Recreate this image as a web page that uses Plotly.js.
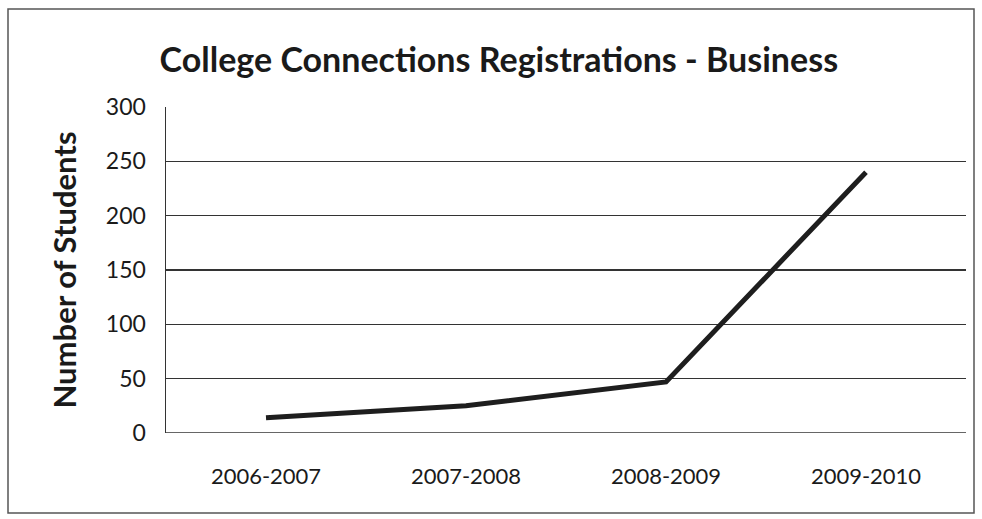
<!DOCTYPE html>
<html>
<head>
<meta charset="utf-8">
<script src="https://cdn.plot.ly/plotly-3.0.1.min.js"></script>
<style>
html,body{margin:0;padding:0;background:#fff;}
#chart{width:982px;height:519px;}
</style>
</head>
<body>
<div id="chart"></div>
<script>
var categories = ['2006-2007', '2007-2008', '2008-2009', '2009-2010'];
var students = [14, 25, 47, 240];
var yTicks = [0, 50, 100, 150, 200, 250, 300];

var trace = {
  x: categories,
  y: students,
  type: 'scatter',
  mode: 'lines',
  line: {color: '#1e1e1e', width: 5},
  hoverinfo: 'skip'
};

var layout = {
  width: 982,
  height: 519,
  margin: {l: 166, r: 16, t: 107, b: 86},
  paper_bgcolor: '#ffffff',
  plot_bgcolor: '#ffffff',
  showlegend: false,
  font: {family: 'Lato, "Open Sans", sans-serif', color: '#1a1a1a'},
  title: {
    text: '<b>College Connections Registrations - Business</b>',
    font: {size: 34, family: 'Lato, sans-serif', color: '#1a1a1a'},
    x: 0.508, xanchor: 'center',
    y: 0.885, yanchor: 'middle'
  },
  xaxis: {
    type: 'category',
    range: [-0.5, 3.5],
    showgrid: false,
    zeroline: false,
    showline: false,
    ticks: '',
    tickfont: {size: 22, color: '#1a1a1a'},
    ticklabelstandoff: 28
  },
  yaxis: {
    range: [0, 300],
    tickvals: yTicks,
    ticktext: yTicks.map(String),
    showgrid: true,
    gridcolor: '#333333',
    gridwidth: 1.5,
    zeroline: false,
    showline: true,
    linecolor: '#333333',
    linewidth: 1.5,
    ticks: '',
    tickfont: {size: 23, color: '#1a1a1a'},
    ticklabelstandoff: 14,
    title: {
      text: '<b>Number of Students</b>',
      font: {size: 31, color: '#1a1a1a'},
      standoff: 20
    }
  },
  shapes: [
    {type: 'line', xref: 'paper', yref: 'y', x0: 0, x1: 1, y0: 0, y1: 0,
     line: {color: '#333333', width: 1.5}},
    {type: 'rect', xref: 'paper', yref: 'paper',
     x0: -158/800, x1: 1.01, y0: -80/326, y1: 1 + 98/326,
     line: {color: '#555555', width: 1.5}, fillcolor: 'rgba(0,0,0,0)'}
  ]
};

Plotly.newPlot('chart', [trace], layout, {displayModeBar: false, staticPlot: true});
</script>
</body>
</html>
